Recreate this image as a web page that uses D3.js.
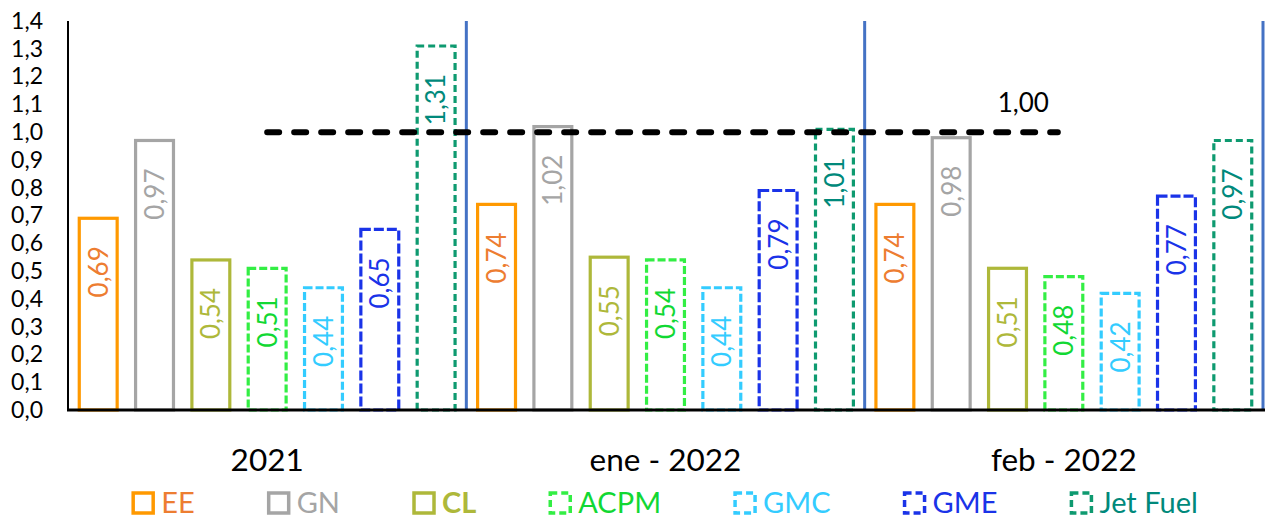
<!DOCTYPE html>
<html lang="es">
<meta charset="UTF-8">
<title>Ratios por energético</title>
<script src="https://d3js.org/d3.v7.min.js"></script>
<style>
html, body { margin: 0; padding: 0; background: #fff; }
body { font-family: Lato, "Liberation Sans", sans-serif; }
</style>
<body>
<div id="chart"></div>
<script>
// data
var periods = ["2021", "ene - 2022", "feb - 2022"];
var fuels = ["EE", "GN", "CL", "ACPM", "GMC", "GME", "Jet Fuel"];
var valuesEE = [0.69, 0.74, 0.74];
var valuesGN = [0.97, 1.02, 0.98];
var valuesCL = [0.54, 0.55, 0.51];
var valuesACPM = [0.51, 0.54, 0.48];
var valuesGMC = [0.44, 0.44, 0.42];
var valuesGME = [0.65, 0.79, 0.77];
var valuesJet = [1.31, 1.01, 0.97];
var referenceValue = 1.0;
var yTicks = [0, 0.1, 0.2, 0.3, 0.4, 0.5, 0.6, 0.7, 0.8, 0.9, 1.0, 1.1, 1.2, 1.3, 1.4];

var seriesValues = [valuesEE, valuesGN, valuesCL, valuesACPM, valuesGMC, valuesGME, valuesJet];

// styling per series
var strokeColor = ["#FF9900", "#A5A5A5", "#AEB83A", "#33EE44", "#33CCFF", "#1A33E8", "#0E9A70"];
var labelColor  = ["#ED7D31", "#A5A5A5", "#AEB83A", "#11D833", "#33CCFF", "#1A33E8", "#00897B"];
var dashes      = [null, null, null, "8,3", "8,3", "10,3", "7,4"];

// note: "top" is a read-only window property, so use plot* names
var W = 1267, H = 520;
var plotLeft = 68, plotRight = 1263, plotTop = 21, plotBottom = 410;
var fmt = function(v, d) { return v.toFixed(d).replace(".", ","); };

var svg = d3.select("#chart").append("svg")
    .attr("width", W)
    .attr("height", H);

var x0 = d3.scaleBand().domain(periods).range([plotLeft, plotRight]).padding(0);
var x1 = d3.scaleBand().domain(fuels).range([0, x0.bandwidth()])
    .paddingInner(0.327).paddingOuter(0.2);
var y = d3.scaleLinear().domain([0, 1.4]).range([plotBottom, plotTop]);

// y axis labels
var yAxis = d3.axisLeft(y).tickValues(yTicks).tickSize(0).tickPadding(0)
    .tickFormat(function(d) { return fmt(d, 1); });
var gy = svg.append("g").attr("transform", "translate(" + (plotLeft - 25) + ",0)").call(yAxis);
gy.select(".domain").remove();
gy.selectAll("text").attr("font-family", "Lato, sans-serif").attr("font-size", 23).attr("fill", "#000");

// group separators
svg.append("g").selectAll("line")
  .data(periods)
  .enter().append("line")
    .attr("x1", function(d) { return x0(d) + x0.bandwidth(); })
    .attr("x2", function(d) { return x0(d) + x0.bandwidth(); })
    .attr("y1", plotTop)
    .attr("y2", plotBottom)
    .attr("stroke", "#4472C4")
    .attr("stroke-width", 3);

// bars
var rows = [];
periods.forEach(function(p, i) {
  fuels.forEach(function(f, j) {
    rows.push({period: p, fuel: f, s: j, value: seriesValues[j][i]});
  });
});

var bars = svg.append("g");
bars.selectAll("rect")
  .data(rows)
  .enter().append("rect")
    .attr("x", function(d) { return x0(d.period) + x1(d.fuel); })
    .attr("y", function(d) { return y(d.value); })
    .attr("width", x1.bandwidth())
    .attr("height", function(d) { return plotBottom - y(d.value); })
    .attr("fill", "none")
    .attr("stroke", function(d) { return strokeColor[d.s]; })
    .attr("stroke-width", 3.2)
    .attr("stroke-dasharray", function(d) { return dashes[d.s]; });

// value labels, rotated inside the bar top
bars.selectAll("text")
  .data(rows)
  .enter().append("text")
    .attr("transform", function(d) {
      var cx = x0(d.period) + x1(d.fuel) + x1.bandwidth() / 2;
      return "translate(" + cx + "," + (y(d.value) + 28) + ") rotate(-90)";
    })
    .attr("text-anchor", "end")
    .attr("dy", "0.36em")
    .attr("font-size", 26)
    .attr("fill", function(d) { return labelColor[d.s]; })
    .text(function(d) { return fmt(d.value, 2); });

// axes lines
svg.append("line")
    .attr("x1", plotLeft).attr("x2", plotLeft)
    .attr("y1", plotTop).attr("y2", plotBottom)
    .attr("stroke", "#000").attr("stroke-width", 2);
svg.append("line")
    .attr("x1", plotLeft - 1).attr("x2", plotRight + 2)
    .attr("y1", plotBottom).attr("y2", plotBottom)
    .attr("stroke", "#000").attr("stroke-width", 3);

// reference line from first to last group centre
var refX1 = x0(periods[0]) + x0.bandwidth() / 2;
var refX2 = x0(periods[periods.length - 1]) + x0.bandwidth() / 2;
svg.append("line")
    .attr("x1", refX1).attr("x2", refX2 - 6)
    .attr("y1", y(referenceValue)).attr("y2", y(referenceValue))
    .attr("stroke", "#000")
    .attr("stroke-width", 6)
    .attr("stroke-linecap", "round")
    .attr("stroke-dasharray", "12,15");
svg.append("text")
    .attr("x", refX2 - 15)
    .attr("y", y(referenceValue) - 20)
    .attr("text-anchor", "end")
    .attr("font-size", 26)
    .attr("fill", "#000")
    .text(fmt(referenceValue, 2));

// category labels
svg.append("g").selectAll("text")
  .data(periods)
  .enter().append("text")
    .attr("x", function(d) { return x0(d) + x0.bandwidth() / 2; })
    .attr("y", 471)
    .attr("text-anchor", "middle")
    .attr("font-size", 31.5)
    .attr("fill", "#000")
    .text(function(d) { return d; });

// legend, laid out in sequence and centred under the plot
var legend = svg.append("g");
var items = legend.selectAll("g")
  .data(fuels)
  .enter().append("g");
items.append("rect")
    .attr("x", 0).attr("y", -10)
    .attr("width", 20).attr("height", 20)
    .attr("fill", "none")
    .attr("stroke", function(d, i) { return strokeColor[i]; })
    .attr("stroke-width", 3.5)
    .attr("stroke-dasharray", function(d, i) { return dashes[i] ? "7,4" : null; });
items.append("text")
    .attr("x", 28)
    .attr("y", 10)
    .attr("font-size", 29)
    .attr("font-weight", function(d) { return d === "CL" ? "bold" : "normal"; })
    .attr("fill", function(d, i) { return labelColor[i]; })
    .text(function(d) { return d; });

var gap = 74, pos = 0, offsets = [];
items.each(function() {
  offsets.push(pos);
  pos += 28 + this.querySelector("text").getComputedTextLength() + gap;
});
var total = pos - gap;
var start = (plotLeft + plotRight) / 2 - total / 2;
items.attr("transform", function(d, i) { return "translate(" + (start + offsets[i]) + ",503)"; });
</script>
</body>
</html>
